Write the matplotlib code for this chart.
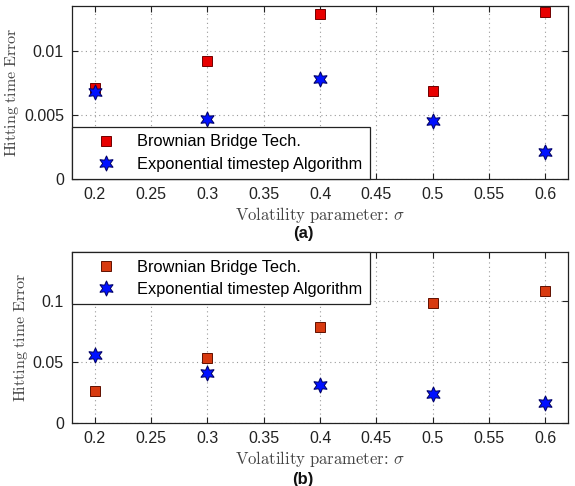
import matplotlib
matplotlib.use('Agg')
import matplotlib.pyplot as plt
import numpy as np

plt.rcParams['font.family'] = ['Liberation Sans', 'DejaVu Sans']
plt.rcParams['mathtext.fontset'] = 'cm'

# volatility values
sigma = [0.2, 0.3, 0.4, 0.5, 0.6]

# panel (a)
bb_a = [0.0071, 0.0092, 0.0129, 0.0069, 0.0130]
exp_a = [0.0068, 0.0047, 0.0078, 0.0045, 0.0021]

# panel (b)
bb_b = [0.026, 0.053, 0.079, 0.098, 0.108]
exp_b = [0.056, 0.041, 0.031, 0.024, 0.016]

xticks = [0.2, 0.25, 0.3, 0.35, 0.4, 0.45, 0.5, 0.55, 0.6]
xticklabels = ['0.2', '0.25', '0.3', '0.35', '0.4', '0.45', '0.5', '0.55', '0.6']
yticks_a = [0, 0.005, 0.01]
yticklabels_a = ['0', '0.005', '0.01']
yticks_b = [0, 0.05, 0.1]
yticklabels_b = ['0', '0.05', '0.1']

labels = ['Brownian Bridge Tech.', 'Exponential timestep Algorithm']
star6 = (6, 1, 0)

fig = plt.figure(figsize=(5.75, 4.86), dpi=100)
ax1 = fig.add_axes([0.1257, 0.6317, 0.862, 0.356])
ax2 = fig.add_axes([0.1257, 0.1302, 0.862, 0.3506])


def style_axes(ax, yticks, yticklabels, ylim):
    ax.set_xlim(0.18, 0.62)
    ax.set_ylim(*ylim)
    ax.set_xticks(xticks)
    ax.set_xticklabels(xticklabels)
    ax.set_yticks(yticks)
    ax.set_yticklabels(yticklabels)
    ax.tick_params(direction='in', top=True, right=True, labelsize=11.5,
                   length=4, width=0.8, colors='#222222', pad=6)
    ax.grid(True, linestyle=(0, (1, 3)), color='#999999', linewidth=0.8)
    for sp in ax.spines.values():
        sp.set_linewidth(0.9)
        sp.set_color('#222222')
    ax.set_xlabel(r'$\mathrm{Volatility\ parameter}\!:\,\sigma$', fontsize=12,
                  color='#444444', labelpad=2)
    ax.set_ylabel(r'$\mathrm{Hitting\ time\ Error}$', fontsize=11.5,
                  color='#444444', labelpad=2)


def add_legend(ax, loc):
    leg = ax.legend(loc=loc, borderaxespad=0, fontsize=11.8,
                    fancybox=False, edgecolor='#222222', framealpha=1,
                    handletextpad=0.25, borderpad=0.45, labelspacing=0.45,
                    handlelength=3.25)
    leg.get_frame().set_linewidth(0.9)


ax1.plot(sigma, bb_a, 's', color='#e80000', markeredgecolor='#700000',
         markersize=6.8, markeredgewidth=0.7, label=labels[0])
ax1.plot(sigma, exp_a, marker=star6, linestyle='none', color='#0010ff',
         markeredgecolor='#000060', markersize=11, markeredgewidth=0.7,
         label=labels[1])
style_axes(ax1, yticks_a, yticklabels_a, (0, 0.0135))
add_legend(ax1, 'lower left')

ax2.plot(sigma, bb_b, 's', color='#d83a10', markeredgecolor='#601000',
         markersize=6.8, markeredgewidth=0.7, label=labels[0])
ax2.plot(sigma, exp_b, marker=star6, linestyle='none', color='#0010ff',
         markeredgecolor='#000060', markersize=11, markeredgewidth=0.7,
         label=labels[1])
style_axes(ax2, yticks_b, yticklabels_b, (0, 0.14))
add_legend(ax2, 'upper left')

fig.text(303 / 575, 1 - 233 / 486, '(a)', ha='center', va='center',
         fontsize=12, fontweight='bold', color='#111111')
fig.text(303 / 575, 1 - 479 / 486, '(b)', ha='center', va='center',
         fontsize=12, fontweight='bold', color='#111111')

fig.savefig('out.png', dpi=100)
